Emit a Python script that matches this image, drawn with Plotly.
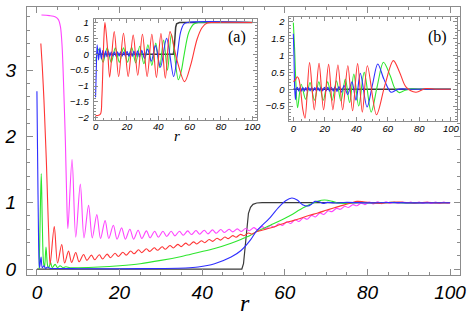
import plotly.graph_objects as go

# ---------------- main panel data (r, value) ----------------
main_magenta = [(1.1, 3.83), (3.0, 3.82), (4.5, 3.80), (5.2, 3.76), (5.7, 3.65), (6.1, 3.35), (6.5, 2.7), (6.9, 1.9), (7.2, 1.1), (7.5, 0.61),
    (8.5, 1.65), (9.4, 0.48), (10.5, 1.28), (11.4, 0.47), (12.5, 0.96), (13.4, 0.47), (14.5, 0.82), (15.4, 0.46), (16.5, 0.73), (17.4, 0.46),
    (18.5, 0.66), (19.4, 0.45), (20.5, 0.62), (21.4, 0.45), (22.5, 0.60), (23.4, 0.45), (24.5, 0.585), (25.4, 0.46), (26.5, 0.575), (27.4, 0.47),
    (28.5, 0.57), (29.4, 0.48), (30.5, 0.57), (31.4, 0.49), (32.5, 0.57), (33.4, 0.50), (34.5, 0.57), (35.4, 0.51), (36.5, 0.575), (37.4, 0.52),
    (38.5, 0.58), (39.4, 0.525), (40.5, 0.585), (41.4, 0.53), (42.5, 0.59), (43.4, 0.54), (44.5, 0.595), (45.4, 0.55), (46.5, 0.60), (47.4, 0.56),
    (48.5, 0.605), (49.4, 0.565), (50.5, 0.61), (51.4, 0.576), (52.5, 0.624), (53.4, 0.59), (54.5, 0.639), (55.4, 0.605), (56.5, 0.656), (57.4, 0.63),
    (58.5, 0.682), (59.4, 0.656), (60.5, 0.712), (61.4, 0.686), (62.5, 0.742), (63.4, 0.716), (64.5, 0.774), (65.4, 0.75), (66.5, 0.809), (67.4, 0.785),
    (68.5, 0.845), (69.4, 0.823), (70.5, 0.879), (71.4, 0.865), (72.5, 0.914), (73.4, 0.90), (74.5, 0.946), (75.4, 0.928), (76.5, 0.971), (77.4, 0.953),
    (78.5, 0.993), (79.4, 0.971), (80.5, 1.008), (81.4, 0.982), (82.5, 1.015), (83.4, 0.985), (84.5, 1.015), (85.4, 0.99), (86.5, 1.01), (87.4, 0.99),
    (88.5, 1.01), (89.4, 0.99), (90.5, 1.01), (91.4, 0.99), (92.5, 1.01), (93.4, 0.99), (94.5, 1.01), (95.4, 0.99), (96.5, 1.01), (97.4, 0.99),
    (98.5, 1.01), (99.4, 0.99), (100.0, 1.0)]

main_red = [(0.95, 3.40), (1.3, 3.05), (1.7, 2.55), (2.0, 2.08), (2.3, 1.6), (2.6, 1.0), (2.9, 0.45), (3.2, 0.07), (4.2, 0.64), (5.0, 0.09),
    (6.0, 0.37), (6.7, 0.09), (7.65, 0.27), (8.4, 0.10), (9.4, 0.25), (10.2, 0.11), (11.3, 0.22), (12.1, 0.13), (13.2, 0.21), (14.0, 0.14),
    (15.1, 0.215), (15.9, 0.151), (17.0, 0.225), (17.8, 0.17), (18.9, 0.238), (19.7, 0.19), (20.8, 0.254), (21.6, 0.21), (22.7, 0.272), (23.5, 0.23),
    (24.6, 0.29), (25.4, 0.247), (26.5, 0.306), (27.3, 0.265), (28.4, 0.321), (29.2, 0.282), (30.3, 0.335), (31.1, 0.299), (32.2, 0.354), (33.0, 0.318),
    (34.1, 0.372), (34.9, 0.338), (36.0, 0.39), (36.8, 0.358), (37.9, 0.409), (38.7, 0.377), (39.8, 0.427), (40.6, 0.397), (41.7, 0.445), (42.5, 0.417),
    (43.6, 0.464), (44.4, 0.436), (45.5, 0.483), (46.3, 0.458), (47.4, 0.503), (48.2, 0.48), (49.3, 0.523), (50.1, 0.502), (51.2, 0.544), (52.0, 0.527),
    (53.1, 0.562), (54.5, 0.585), (56.0, 0.61), (58.0, 0.65), (60.0, 0.695), (62.0, 0.73), (64.0, 0.77), (66.0, 0.81), (68.0, 0.845), (70.0, 0.885),
    (72.0, 0.925), (74.0, 0.96), (76.0, 0.995), (77.5, 1.02), (79.0, 1.015), (81.0, 1.0), (83.0, 0.99), (85.5, 1.005), (88.0, 1.01), (91.0, 0.995),
    (94.0, 1.005), (97.0, 0.998), (100.0, 1.0)]

main_green = [(0.55, 0.0), (0.8, 0.8), (1.05, 1.44), (1.3, 0.7), (1.6, 0.1), (1.85, 0.03), (2.2, 0.33), (2.6, 0.05), (2.9, 0.02), (3.3, 0.1),
    (3.7, 0.02), (4.4, 0.07), (5.0, 0.02), (5.6, 0.05), (6.3, 0.02), (7.0, 0.035), (8.0, 0.02), (10.0, 0.02), (15.0, 0.03), (20.0, 0.05),
    (25.0, 0.08), (30.0, 0.13), (35.0, 0.19), (39.0, 0.25), (43.0, 0.31), (47.0, 0.39), (49.5, 0.45), (51.7, 0.51), (53.0, 0.56), (56.5, 0.66),
    (60.5, 0.78), (64.7, 0.93), (67.9, 1.02), (69.6, 1.04), (71.5, 1.02), (72.8, 0.995), (75.0, 0.99), (78.0, 1.005), (82.0, 0.995), (86.0, 1.005),
    (90.0, 0.997), (95.0, 1.003), (100.0, 1.0)]

main_blue = [(0.0, 2.68), (0.08, 2.2), (0.2, 1.5), (0.35, 0.7), (0.5, 0.15), (0.65, 0.02), (1.0, 0.18), (1.3, 0.02), (1.7, 0.05), (2.1, 0.01),
    (2.6, 0.03), (3.2, 0.01), (5.0, 0.008), (10.0, 0.005), (20.0, 0.005), (30.0, 0.008), (36.0, 0.015), (39.0, 0.03), (43.0, 0.08), (47.0, 0.18),
    (49.4, 0.28), (51.7, 0.44), (53.0, 0.56), (56.5, 0.78), (58.5, 0.93), (60.2, 1.03), (61.7, 1.07), (63.0, 1.04), (64.3, 0.97), (65.6, 0.95),
    (66.5, 0.98), (67.3, 1.02), (68.3, 1.015), (69.3, 0.99), (70.3, 1.005), (72.0, 0.995), (75.0, 1.005), (80.0, 0.997), (85.0, 1.003), (90.0, 0.998),
    (100.0, 1.0)]

main_black = [(0.0, 0.0), (49.6, 0.0), (50.0, 0.08), (50.4, 0.35), (50.8, 0.65), (51.2, 0.84), (51.7, 0.93), (52.3, 0.975), (53.2, 0.995),
    (54.5, 1.0), (100.0, 1.0)]

# ---------------- inset (a) data ----------------
a_black = [(0.0, 0.0), (49.6, 0.0), (50.1, 0.15), (50.6, 0.55), (51.1, 0.85), (51.7, 0.96), (52.6, 0.995), (53.5, 1.0), (100.0, 1.0)]

a_red = [(0.0, -1.93), (2.0, -1.92), (3.3, -1.86), (4.0, -1.4), (4.8, -0.2), (5.4, 0.6), (6.0, 1.0), (7.6, 0.2), (9.0, -0.72), (11.9, 0.71),
    (14.7, -0.70), (17.8, 0.66), (20.8, -0.70), (24.0, 0.60), (26.9, -0.66), (29.9, 0.63), (32.9, -0.70), (35.9, 0.63), (38.8, -0.73), (41.7, 0.65),
    (44.5, -0.75), (47.5, 0.71), (52.0, -0.2), (56.8, -0.86), (60.6, -0.35), (64.8, 0.48), (68.0, 0.84), (71.2, 0.98), (75.0, 1.0), (100.0, 1.0)]

a_green = [(0.0, -0.22), (2.2, 0.17), (4.8, -0.25), (7.4, 0.2), (10.0, -0.25), (12.6, 0.2), (15.2, -0.25), (17.8, 0.2), (20.4, -0.25), (23.0, 0.22),
    (25.6, -0.27), (28.2, 0.25), (30.8, -0.3), (33.4, 0.3), (35.9, -0.35), (38.4, 0.35), (40.9, -0.42), (43.4, 0.45), (45.9, -0.5), (48.4, 0.63),
    (52.8, -0.8), (54.8, -0.5), (56.4, -0.04), (59.5, 0.69), (62.7, 0.95), (65.5, 1.0), (100.0, 1.0)]

a_blue = [(0.0, -1.35), (0.5, -0.4), (1.0, 0.30), (1.9, -0.18), (2.8, 0.2), (3.7, -0.15), (4.6, 0.12), (5.5, -0.1), (6.4, 0.1), (7.3, -0.08),
    (8.2, 0.09), (9.1, -0.07), (10.0, 0.08), (11.0, -0.06), (12.0, 0.08), (13.0, -0.06), (14.0, 0.08), (15.0, -0.06), (16.0, 0.08), (17.0, -0.06),
    (18.0, 0.08), (19.0, -0.06), (20.1, 0.09), (21.2, -0.07), (22.3, 0.09), (23.4, -0.07), (24.5, 0.1), (25.6, -0.08), (26.8, 0.11), (28.0, -0.09),
    (29.5, 0.12), (31.2, -0.13), (33.2, 0.16), (35.6, -0.22), (38.2, 0.27), (41.4, -0.41), (45.3, 0.50), (49.8, -0.70), (52.1, -0.04), (54.2, 0.69),
    (56.3, 0.95), (58.5, 1.0), (100.0, 1.0)]

# ---------------- inset (b) data ----------------
b_black = [(0.0, 0.0), (100.0, 0.0)]

b_blue = [(0.0, 1.65), (0.4, 1.0), (0.8, 0.1), (1.3, -0.31), (1.9, 0.0), (2.6, 0.06), (3.4, -0.06), (4.3, 0.05), (5.2, -0.06), (6.1, 0.05),
    (7.0, -0.06), (7.9, 0.05), (8.8, -0.05), (9.7, 0.05), (10.6, -0.05), (11.6, 0.05), (12.6, -0.05), (13.6, 0.05), (14.6, -0.05), (15.6, 0.05),
    (16.6, -0.05), (17.6, 0.05), (18.6, -0.05), (19.7, 0.06), (20.8, -0.05), (21.9, 0.06), (23.0, -0.06), (24.1, 0.06), (25.3, -0.06), (26.5, 0.07),
    (27.7, -0.07), (29.0, 0.08), (30.5, -0.09), (32.2, 0.11), (34.5, -0.16), (37.2, 0.22), (39.8, -0.33), (42.5, 0.47), (46.8, -0.53), (50.3, 0.15),
    (53.6, 0.75), (57.5, 0.3), (62.0, -0.09), (65.5, -0.02), (69.0, 0.01), (73.0, 0.0), (100.0, 0.0)]

b_green = [(0.0, 1.98), (0.8, 1.2), (1.6, 0.2), (2.7, -0.55), (5.0, 0.15), (7.8, -0.3), (10.6, 0.2), (13.4, -0.33), (16.2, 0.22), (19.0, -0.33),
    (21.8, 0.22), (24.6, -0.33), (27.4, 0.25), (30.2, -0.35), (33.0, 0.3), (35.7, -0.4), (38.4, 0.45), (41.5, -0.5), (45.0, 0.5), (49.4, -0.68),
    (53.3, 0.1), (57.2, 0.80), (61.5, 0.4), (64.5, 0.02), (67.3, -0.10), (71.0, -0.03), (75.0, 0.01), (80.0, 0.0), (100.0, 0.0)]

b_red = [(0.0, 0.23), (1.0, 0.26), (2.5, 0.37), (3.5, 0.3), (4.8, -0.1), (6.0, -0.6), (7.4, -0.86), (10.3, 0.79), (13.3, -0.61), (16.3, 0.77),
    (19.2, -0.61), (22.4, 0.74), (25.1, -0.61), (28.3, 0.72), (31.3, -0.61), (34.6, 0.70), (37.6, -0.64), (40.8, 0.76), (43.8, -0.68), (47.0, 0.70),
    (52.8, -0.76), (58.0, 0.1), (63.5, 0.85), (67.5, 0.5), (71.6, 0.06), (77.8, -0.09), (84.0, 0.02), (90.0, 0.0), (100.0, 0.0)]

panel_labels = ["(a)", "(b)"]
axis_label = "r"

C_MAG = "#ff44ff"
C_RED = "#ff3636"
C_GRN = "#2ee62e"
C_BLU = "#2e2eff"
C_BLK = "#3a3a3a"
FRAME = "#8c8c8c"

fig = go.Figure()


def add(pts, color, xa, ya, width=1.1, shape="spline"):
    xs, ys = zip(*pts)
    fig.add_trace(go.Scatter(x=list(xs), y=list(ys), mode="lines",
                             line=dict(color=color, width=width, shape=shape, smoothing=0.9),
                             xaxis=xa, yaxis=ya, hoverinfo="skip", showlegend=False))


add(main_black, C_BLK, "x", "y", 1.2, "linear")
add(main_magenta, C_MAG, "x", "y")
add(main_green, C_GRN, "x", "y")
add(main_red, C_RED, "x", "y")
add(main_blue, C_BLU, "x", "y")

add(a_black, C_BLK, "x2", "y2", 1.5, "linear")
add(a_green, C_GRN, "x2", "y2")
add(a_blue, C_BLU, "x2", "y2")
add(a_red, C_RED, "x2", "y2")

add(b_black, C_BLK, "x3", "y3", 1.5, "linear")
add(b_green, C_GRN, "x3", "y3")
add(b_blue, C_BLU, "x3", "y3")
add(b_red, C_RED, "x3", "y3")

big_font = dict(family="Liberation Sans", size=19, style="italic", color="black")
small_font = dict(family="Liberation Sans", size=9.5, style="italic", color="black")


def ax(common_font, dtick, mdtick, tl, mtl, **kw):
    d = dict(showline=True, linecolor=FRAME, linewidth=1, mirror="ticks", ticks="inside",
             ticklen=tl, tickcolor=FRAME, tickwidth=1, dtick=dtick, tick0=0,
             minor=dict(dtick=mdtick, ticks="inside", ticklen=mtl, tickcolor=FRAME, tickwidth=1),
             showgrid=False, zeroline=False, tickfont=common_font, fixedrange=True)
    d.update(kw)
    return d


fig.update_layout(
    width=474, height=319,
    margin=dict(l=26, r=14, t=5, b=44),
    paper_bgcolor="white", plot_bgcolor="white",
    xaxis=ax(big_font, 20, 5, 6, 3, range=[-2.4, 102.4], domain=[0, 1], anchor="y", ticklabelstandoff=0),
    yaxis=ax(big_font, 1, 0.2, 6, 3, range=[-0.09, 3.95], domain=[0, 1], anchor="x", ticklabelstandoff=6),
    xaxis2=ax(small_font, 20, 5, 4, 2, range=[-1.2, 103.2], domain=[0.154, 0.532], anchor="y2", ticklabelstandoff=-2),
    yaxis2=ax(small_font, 0.5, 0.1, 4, 2, range=[-2.07, 1.115], domain=[0.578, 0.956], anchor="x2", ticklabelstandoff=2),
    xaxis3=ax(small_font, 20, 5, 4, 2, range=[-2.5, 103.6], domain=[0.606, 0.992], anchor="y3", ticklabelstandoff=-2),
    yaxis3=ax(small_font, 0.5, 0.1, 4, 2, range=[-0.95, 2.15], domain=[0.574, 0.963], anchor="x3", ticklabelstandoff=2),
    annotations=[
        dict(text=axis_label, xref="paper", yref="paper", x=0.5046, y=-0.1037, showarrow=False,
             xanchor="center", yanchor="middle",
             font=dict(family="Liberation Serif", size=24, style="italic", color="black")),
        dict(text=axis_label, xref="paper", yref="paper", x=0.347, y=0.52, showarrow=False,
             xanchor="center", yanchor="middle",
             font=dict(family="Liberation Serif", size=15, style="italic", color="black")),
        dict(text=panel_labels[0], xref="paper", yref="paper", x=0.486, y=0.889, showarrow=False,
             xanchor="center", yanchor="middle",
             font=dict(family="Liberation Serif", size=16, color="black")),
        dict(text=panel_labels[1], xref="paper", yref="paper", x=0.947, y=0.889, showarrow=False,
             xanchor="center", yanchor="middle",
             font=dict(family="Liberation Serif", size=16, color="black")),
    ],
)

fig.write_html("out.html", config={"displayModeBar": False},
               post_script="document.body.style.margin='0';document.body.style.overflow='hidden';")
